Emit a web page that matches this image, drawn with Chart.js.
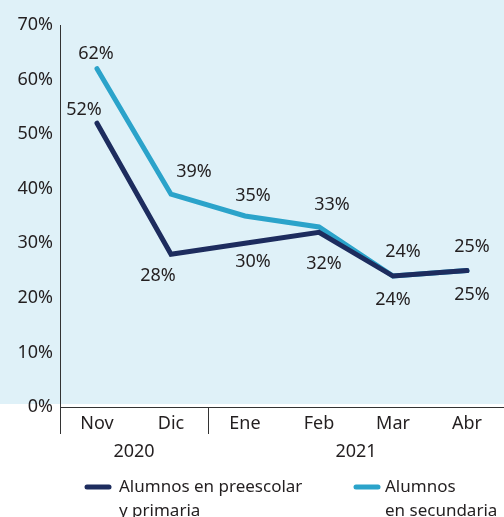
<!DOCTYPE html>
<html>
<head>
<meta charset="utf-8">
<script src="https://cdn.jsdelivr.net/npm/chart.js@4.4.1/dist/chart.umd.min.js"></script>
<style>
  html, body { margin: 0; padding: 0; background: #ffffff; }
  #wrap { width: 504px; height: 517px; }
</style>
</head>
<body>
<div id="wrap"><canvas id="grafico" width="504" height="517"></canvas></div>
<script>
// Datos del gráfico
const meses = ['Nov', 'Dic', 'Ene', 'Feb', 'Mar', 'Abr'];
const anios = ['2020', '2021'];
const anioDesde = [0, 2]; // primer mes de cada año
const anioHasta = [1, 5]; // último mes de cada año
const preescolar = [52, 28, 30, 32, 24, 25];
const secundaria = [62, 39, 35, 33, 24, 25];
const nombrePreescolar = ['Alumnos en preescolar', 'y primaria'];
const nombreSecundaria = ['Alumnos', 'en secundaria'];
const yMax = 70;
const yPaso = 10;

// Estilos
const FUENTE = "'Noto Sans', sans-serif";
const TEXTO = '#231f20';
const AZUL_OSCURO = '#1d2c5e';
const AZUL_CLARO = '#2ba3ca';
const FONDO = '#dff1f8';

// desplazamiento de cada etiqueta respecto a su punto (dx, dy)
const despPre = [[-13, -13], [-13, 22], [8, 19], [5, 32], [0, 24], [5, 24]];
const despSec = [[-1, -15], [23, -22], [8, -20], [13, -22], [10, -24], [5, -24]];

// posición de cada entrada de la leyenda (inicio de la línea, inicio del texto)
const leyendaX = [85, 354];
const leyendaTextoX = [119, 385];

// fondo azul claro detrás del área del gráfico
const fondoPlugin = {
  id: 'fondo',
  beforeDraw(chart) {
    const ctx = chart.ctx;
    const y0 = chart.scales.y.getPixelForValue(0);
    ctx.save();
    ctx.fillStyle = FONDO;
    ctx.fillRect(0, 0, chart.width, y0 - 3);
    ctx.restore();
  }
};

// etiquetas de valores, años, líneas del eje y leyenda
const extrasPlugin = {
  id: 'extras',
  afterDraw(chart) {
    const ctx = chart.ctx;
    const x = chart.scales.x;
    const y = chart.scales.y;
    const y0 = y.getPixelForValue(0);
    ctx.save();
    ctx.strokeStyle = '#333333';
    ctx.lineWidth = 1;
    ctx.beginPath();
    ctx.moveTo(x.left + 0.5, y0);
    ctx.lineTo(x.left + 0.5, y0 + 27);
    const sep = x.getPixelForValue(1.5);
    ctx.moveTo(Math.round(sep) + 0.5, y0);
    ctx.lineTo(Math.round(sep) + 0.5, y0 + 27);
    ctx.stroke();

    ctx.fillStyle = TEXTO;
    ctx.font = '18px ' + FUENTE;
    ctx.textAlign = 'center';
    ctx.textBaseline = 'middle';
    anios.forEach((a, i) => {
      const cx = x.getPixelForValue((anioDesde[i] + anioHasta[i]) / 2);
      ctx.fillText(a, cx, y0 + 45);
    });

    const series = [[0, preescolar, despPre], [1, secundaria, despSec]];
    series.forEach(([idx, valores, desp]) => {
      const meta = chart.getDatasetMeta(idx);
      meta.data.forEach((p, i) => {
        ctx.fillText(valores[i] + '%', p.x + desp[i][0], p.y + desp[i][1]);
      });
    });

    // leyenda (etiquetas de dos líneas)
    ctx.textAlign = 'left';
    ctx.font = '17px ' + FUENTE;
    const ly = y0 + 80;
    chart.data.datasets.forEach((ds, k) => {
      const lx = leyendaX[k];
      ctx.strokeStyle = ds.borderColor;
      ctx.lineWidth = 5;
      ctx.lineCap = 'round';
      ctx.beginPath();
      ctx.moveTo(lx + 2, ly);
      ctx.lineTo(lx + 24, ly);
      ctx.stroke();
      ds.label.forEach((linea, j) => {
        ctx.fillText(linea, leyendaTextoX[k], ly + j * 24);
      });
    });
    ctx.restore();
  }
};

new Chart(document.getElementById('grafico'), {
  type: 'line',
  data: {
    labels: meses,
    datasets: [
      {
        label: nombrePreescolar,
        data: preescolar,
        borderColor: AZUL_OSCURO,
        backgroundColor: AZUL_OSCURO,
        borderWidth: 5,
        borderCapStyle: 'round',
        pointRadius: 0,
        tension: 0
      },
      {
        label: nombreSecundaria,
        data: secundaria,
        borderColor: AZUL_CLARO,
        backgroundColor: AZUL_CLARO,
        borderWidth: 5,
        borderCapStyle: 'round',
        pointRadius: 0,
        tension: 0
      }
    ]
  },
  options: {
    responsive: false,
    devicePixelRatio: 1,
    animation: false,
    layout: { padding: { top: 25, right: 0, left: 0, bottom: 43 } },
    plugins: {
      tooltip: { enabled: false },
      legend: { display: false }
    },
    scales: {
      x: {
        offset: true,
        grid: { display: false, drawTicks: false },
        border: { display: true, color: '#333333', width: 1 },
        ticks: { color: TEXTO, font: { family: FUENTE, size: 18 }, padding: 6 },
        afterFit(scale) { scale.height = 67; }
      },
      y: {
        min: 0,
        max: yMax,
        grid: { display: false, drawTicks: false },
        border: { display: true, color: '#333333', width: 1 },
        ticks: {
          stepSize: yPaso,
          color: TEXTO,
          padding: 7,
          font: { family: FUENTE, size: 18 },
          callback: v => v + '%'
        },
        afterFit(scale) { scale.width = 60; }
      }
    }
  },
  plugins: [fondoPlugin, extrasPlugin]
});
</script>
</body>
</html>
